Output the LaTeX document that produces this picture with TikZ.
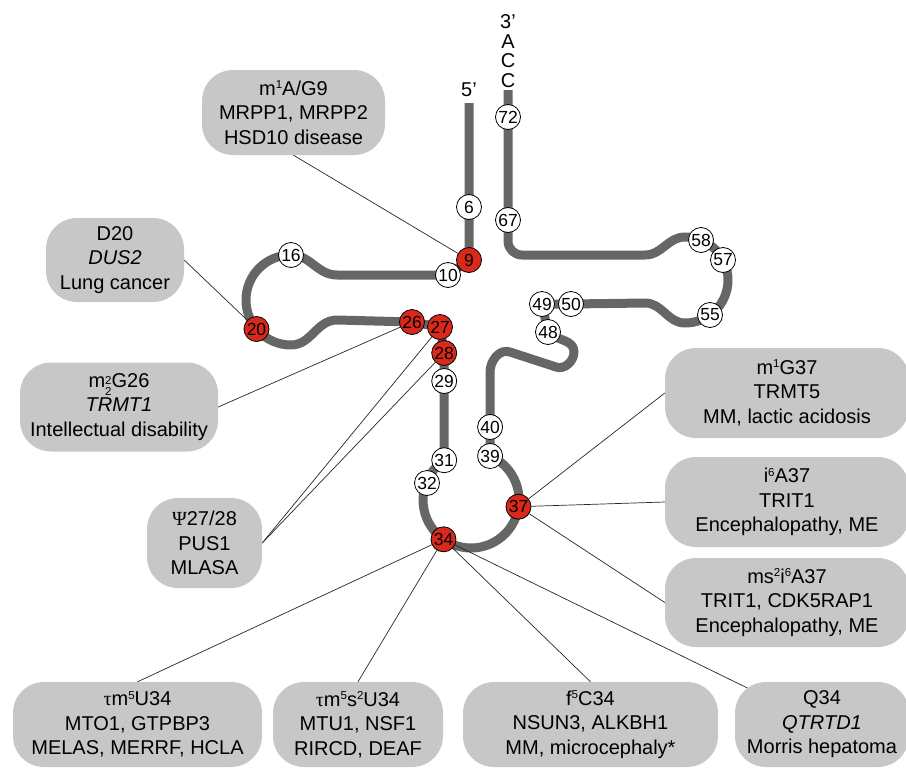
\documentclass[tikz,border=0pt]{standalone}
\usepackage{fontspec}
\setmainfont{Liberation Sans}
\newfontfamily\grk{Liberation Serif}
\usetikzlibrary{backgrounds,positioning}
\pgfdeclarelayer{edgelayer}
\pgfdeclarelayer{nodelayer}
\pgfsetlayers{edgelayer,nodelayer,main}
\definecolor{boxgray}{RGB}{199,199,199}
\definecolor{strandgray}{RGB}{102,102,102}
\definecolor{modred}{RGB}{218,40,28}
\newcommand{\sps}[1]{\raisebox{0.62ex}{\fontsize{11.5}{11.5}\selectfont #1}}
\newcommand{\spsbs}[2]{\raisebox{-0.75ex}{\fontsize{11.5}{11}\selectfont\shortstack[l]{#1\\#2}}}
\tikzset{font=\fontsize{20}{24.5}\selectfont}
\tikzstyle{none}=[inner sep=0pt]
\tikzstyle{base}=[circle,draw=black,fill=white,line width=0.8pt,minimum size=25pt,inner sep=0pt,font=\fontsize{17.5}{17.5}\selectfont]
\tikzstyle{modbase}=[base,fill=modred]
\tikzstyle{box}=[rectangle,rounded corners=31pt,fill=boxgray,align=center,inner sep=0pt]
\tikzstyle{strand}=[draw=strandgray,line width=9pt,line join=round]
\tikzstyle{link}=[draw=black!85,line width=0.7pt]

\begin{document}
\begin{tikzpicture}[x=1pt,y=1pt]
	\useasboundingbox (0,0) rectangle (906,-769);
	\begin{pgfonlayer}{nodelayer}
		% ends of the strand
		\node [style=none,align=center,font=\fontsize{20}{19.5}\selectfont] (e3) at (508,-51) {3’\\A\\C\\C};
		\node [style=none] (e5) at (469,-90) {5’};
		\node [style=none] (s3) at (508,-90) {};
		\node [style=none] (s5) at (469,-103) {};
		% bends of the strand
		\node [style=none] (dn1) at (337,-275) {};
		\node [style=none] (dl) at (246,-300) {};
		\node [style=none] (db) at (291,-345) {};
		\node [style=none] (dn2) at (337,-320) {};
		\node [style=none] (v4) at (490,-372) {};
		\node [style=none] (v3) at (510,-352) {};
		\node [style=none] (v2) at (556,-367) {};
		\node [style=none] (v1) at (574,-352) {};
		\node [style=none] (tn2) at (645,-303) {};
		\node [style=none] (tb) at (685,-323) {};
		\node [style=none] (tr) at (728,-280) {};
		\node [style=none] (tt) at (685,-237) {};
		\node [style=none] (tn1) at (645,-255) {};
		\node [style=none] (tc) at (508,-255) {};
		% nucleotides
		\node [style=base] (72) at (508,-117) {72};
		\node [style=base] (6) at (469,-207) {6};
		\node [style=base] (67) at (508,-220) {67};
		\node [style=modbase] (9) at (469,-260) {9};
		\node [style=base] (10) at (448,-275) {10};
		\node [style=base] (16) at (291,-255) {16};
		\node [style=modbase] (20) at (256.5,-329) {20};
		\node [style=modbase] (26) at (412,-322) {26};
		\node [style=modbase] (27) at (440,-327) {27};
		\node [style=modbase] (28) at (444.2,-353) {28};
		\node [style=base] (29) at (444.2,-381) {29};
		\node [style=base] (31) at (444.2,-460.2) {31};
		\node [style=base] (32) at (427,-483) {32};
		\node [style=modbase] (34) at (443.5,-539.3) {34};
		\node [style=modbase] (37) at (518.5,-506.7) {37};
		\node [style=base] (39) at (490.1,-456) {39};
		\node [style=base] (40) at (490.1,-427) {40};
		\node [style=base] (48) at (548,-332) {48};
		\node [style=base] (49) at (542,-304) {49};
		\node [style=base] (50) at (571,-304) {50};
		\node [style=base] (55) at (710,-315) {55};
		\node [style=base] (57) at (723,-260) {57};
		\node [style=base] (58) at (701,-240) {58};
		% modifications
		\node [style=box,minimum width=183pt,minimum height=85pt] (b1) at (293.5,-112.5) {m\sps{1}A/G9\\MRPP1, MRPP2\\HSD10 disease};
		\node [style=box,minimum width=138pt,minimum height=84pt] (b2) at (115,-260) {D20\\\textit{DUS2}\\Lung cancer};
		\node [style=box,minimum width=198pt,minimum height=89pt] (b3) at (119,-407) {m\spsbs{2}{2}G26\\\textit{TRMT1}\\Intellectual disability};
		\node [style=box,minimum width=115pt,minimum height=90pt] (b4) at (204.5,-543) {{\grk Ψ}27/28\\PUS1\\MLASA};
		\node [style=box,minimum width=244pt,minimum height=90pt] (b5) at (787,-393) {m\sps{1}G37\\TRMT5\\MM, lactic acidosis};
		\node [style=box,minimum width=244pt,minimum height=90pt] (b6) at (787,-502) {i\sps{6}A37\\TRIT1\\Encephalopathy, ME};
		\node [style=box,minimum width=244pt,minimum height=89pt] (b7) at (787,-602.5) {ms\sps{2}i\sps{6}A37\\TRIT1, CDK5RAP1\\Encephalopathy, ME};
		\node [style=box,minimum width=249pt,minimum height=85pt] (b8) at (137.5,-724.5) {{\grk τ}m\sps{5}U34\\MTO1, GTPBP3\\MELAS, MERRF, HCLA};
		\node [style=box,minimum width=170pt,minimum height=85pt] (b9) at (358,-724.5) {{\grk τ}m\sps{5}s\sps{2}U34\\MTU1, NSF1\\RIRCD, DEAF};
		\node [style=box,minimum width=255pt,minimum height=85pt] (b10) at (590.5,-724.5) {f\sps{5}C34\\NSUN3, ALKBH1\\MM, microcephaly*};
		\node [style=box,minimum width=174pt,minimum height=85pt] (b11) at (822,-724.5) {Q34\\\textit{QTRTD1}\\Morris hepatoma};
	\end{pgfonlayer}
	\begin{pgfonlayer}{edgelayer}
		\draw [style=strand] (s5.center) to (9.center) to (10.center) to (dn1.center)
			to [out=180, in=0] (16.center) to [out=180, in=90] (dl.center)
			to [out=-90, in=180] (db.center) to [out=0, in=180] (dn2.center)
			to (26.center) to (27.center) to (28.center) to (29.center) to (31.center)
			arc [start angle=124, end angle=426.6, radius=48]
			to (40.center) to (v4.center) to [out=90, in=160] (v3.center) to (v2.center)
			to [out=-20, in=-90] (v1.center) to [out=90, in=-45] (48.center)
			to (49.center) to (50.center) to (tn2.center)
			to [out=0, in=180] (tb.center) to [out=0, in=-90] (tr.center)
			to [out=90, in=0] (tt.center) to [out=180, in=0] (tn1.center);
		\draw [style=strand, rounded corners=14pt] (tn1.center) -- (tc.center) -- (s3.center);
		\draw [style=link] (b1.south) to (9);
		\draw [style=link] (b2.east) to (20);
		\draw [style=link] (b3.east) to (26);
		\draw [style=link] (b4.east) to (27);
		\draw [style=link] (b4.east) to (28);
		\draw [style=link] (b5.west) to (37);
		\draw [style=link] (b6.west) to (37);
		\draw [style=link] (b7.west) to (37);
		\draw [style=link] (b8.north) to (34);
		\draw [style=link] (b9.north) to (34);
		\draw [style=link] (b10.north) to (34);
		\draw [style=link] (b11.center) to (34);
	\end{pgfonlayer}
\end{tikzpicture}
\end{document}
